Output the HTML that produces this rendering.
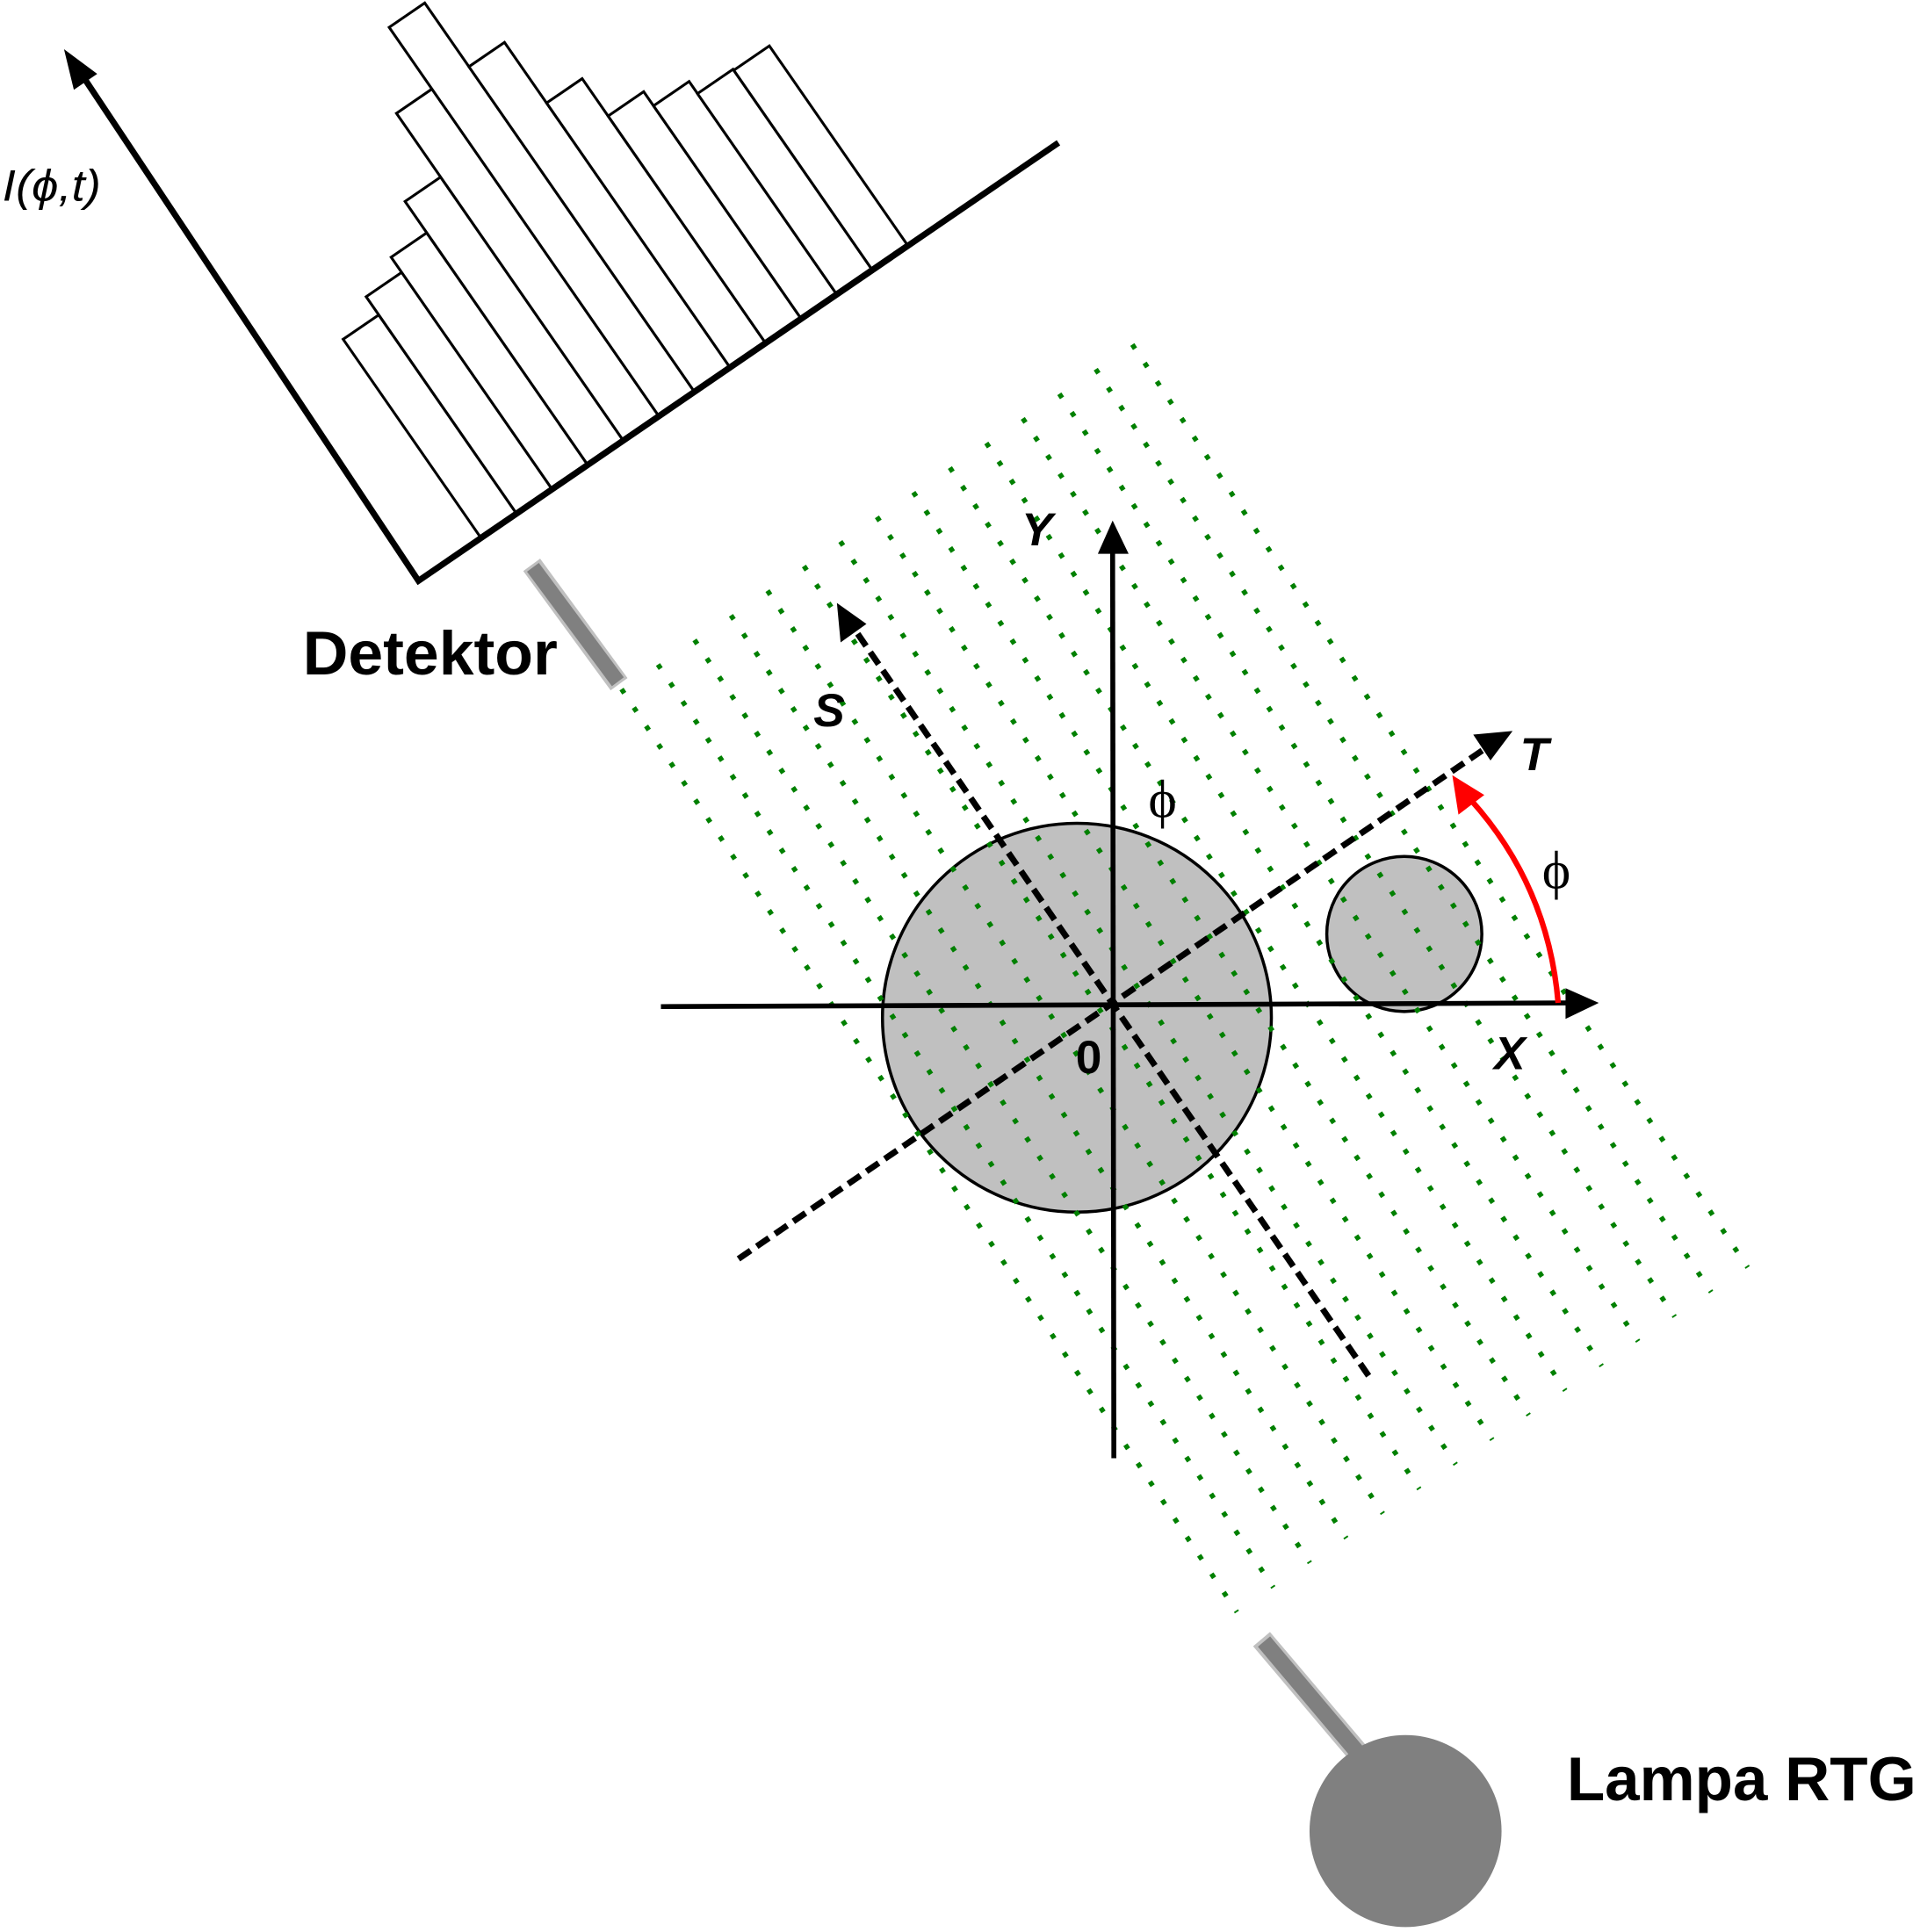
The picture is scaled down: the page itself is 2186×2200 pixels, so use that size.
<!DOCTYPE html>
<html><head><meta charset="utf-8"><style>html,body{margin:0;padding:0;background:#fff}svg{display:block}</style></head>
<body>
<svg width="2186" height="2200" viewBox="0 0 1560 1570" xmlns="http://www.w3.org/2000/svg">
<rect width="1560" height="1570" fill="#fff"/>
<g fill="#fff" stroke="#000" stroke-width="2.2" stroke-linejoin="miter">
<polygon points="390,436 418.9,416.2 307.7,255.9 278.8,275.7"/>
<polygon points="418.9,416.2 447.8,396.4 326.4,221.3 297.5,241.1"/>
<polygon points="447.8,396.4 476.7,376.6 346.7,189.2 317.8,209"/>
<polygon points="476.7,376.6 505.6,356.8 358,143.9 329.1,163.7"/>
<polygon points="505.6,356.8 534.5,337 351,72.3 322.1,92.1"/>
<polygon points="534.5,337 563.4,317.2 345.1,2.4 316.2,22.2"/>
<polygon points="563.4,317.2 592.3,297.4 409.9,34.4 381,54.2"/>
<polygon points="592.3,297.4 621.2,277.6 473,63.9 444.1,83.7"/>
<polygon points="621.2,277.6 650.1,257.8 523,74.5 494.1,94.3"/>
<polygon points="650.1,257.8 679,238 559.9,66.2 531,86"/>
<polygon points="679,238 707.9,218.2 595.6,56.3 566.7,76.1"/>
<polygon points="707.9,218.2 736.8,198.4 625.1,37.3 596.2,57.1"/>
</g>
<polyline points="860,116 340,472 70,66" fill="none" stroke="#000" stroke-width="5"/>
<polygon points="52,40 79,60 60,73" fill="#000"/>
<text x="2" y="163" font-family="Liberation Sans, sans-serif" font-style="italic" font-size="36" textLength="80" lengthAdjust="spacingAndGlyphs">I(ϕ,t)</text>
<line x1="432" y1="459" x2="503" y2="556" stroke="#c0c0c0" stroke-width="17"/>
<line x1="433" y1="461" x2="502" y2="554" stroke="#808080" stroke-width="12"/>
<text x="246" y="548" font-family="Liberation Sans, sans-serif" font-weight="bold" font-size="50" textLength="207" lengthAdjust="spacingAndGlyphs">Detektor</text>
<circle cx="875" cy="827" r="158" fill="#c0c0c0" stroke="#000" stroke-width="2.5"/>
<circle cx="1141" cy="759" r="63" fill="#c0c0c0" stroke="#000" stroke-width="2.5"/>
<g stroke="#008000" stroke-width="4" stroke-dasharray="4 14" fill="none">
<path d="M505,560l500,750M534.6,540l500,750M564.3,520l500,750M593.9,500l500,750M623.6,480l500,750M653.2,460l500,750M682.8,440l500,750M712.5,420l500,750M742.1,400l500,750M771.8,380l500,750M801.4,360l500,750M831,340l500,750M860.7,320l500,750M890.3,300l500,750M920,280l500,750"/>
</g>
<line x1="905" y1="1185" x2="904" y2="445" stroke="#000" stroke-width="4"/>
<polygon points="904,423 892,450 917,450" fill="#000"/>
<line x1="537" y1="818" x2="1282" y2="815" stroke="#000" stroke-width="4"/>
<polygon points="1299,815 1272,803 1272,828" fill="#000"/>
<line x1="1112" y1="1118" x2="692" y2="508" stroke="#000" stroke-width="5" stroke-dasharray="12 6"/>
<polygon points="680,490 683,522 704,507" fill="#000"/>
<line x1="600" y1="1023" x2="1210" y2="606" stroke="#000" stroke-width="5" stroke-dasharray="12 6"/>
<polygon points="1229,594 1197,597 1211,618" fill="#000"/>
<path d="M1266,815 Q1258,720 1195,650" fill="none" stroke="#f00" stroke-width="4.5"/>
<polygon points="1180,630 1185,662 1206,646" fill="#f00"/>
<g font-family="Liberation Sans, sans-serif" font-weight="bold" font-style="italic" font-size="38">
<text x="830" y="443">Y</text>
<text x="1214" y="869">X</text>
<text x="661" y="590">S</text>
<text x="1235" y="626">T</text>
</g>
<text x="874" y="872" font-family="Liberation Sans, sans-serif" font-weight="bold" font-size="38">0</text>
<text x="933" y="664" font-family="Liberation Serif, serif" font-size="44">ϕ</text>
<text x="1253" y="722" font-family="Liberation Serif, serif" font-size="44">ϕ</text>
<line x1="1025" y1="1332" x2="1108" y2="1430" stroke="#c0c0c0" stroke-width="18"/>
<line x1="1027" y1="1334" x2="1108" y2="1430" stroke="#808080" stroke-width="13"/>
<circle cx="1142" cy="1488" r="78" fill="#808080"/>
<text x="1273" y="1463" font-family="Liberation Sans, sans-serif" font-weight="bold" font-size="50" textLength="284" lengthAdjust="spacingAndGlyphs">Lampa RTG</text>
</svg>
</body></html>
